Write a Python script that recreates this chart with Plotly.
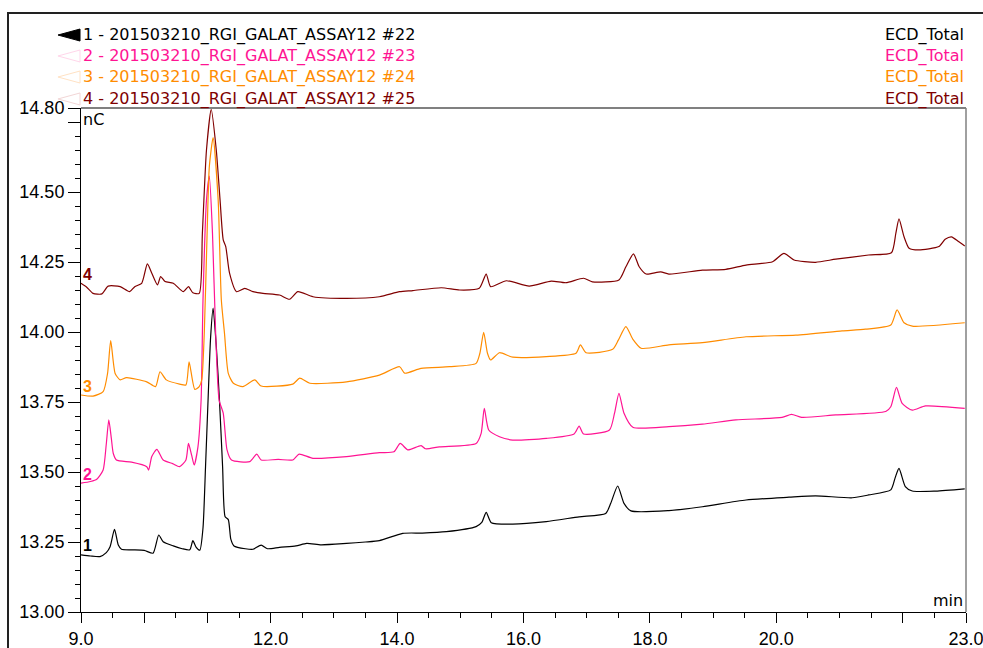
import plotly.graph_objects as go

# Retention time (min) / ECD signal (nC) for each injection
run22 = [(9.00, 13.204), (9.15, 13.200), (9.30, 13.198), (9.40, 13.212), (9.46, 13.233), (9.53, 13.295),
         (9.59, 13.239), (9.64, 13.224), (9.80, 13.222), (10.00, 13.220), (10.14, 13.210), (10.23, 13.275),
         (10.30, 13.251), (10.46, 13.236), (10.60, 13.226), (10.72, 13.222), (10.77, 13.255), (10.82, 13.232),
         (10.88, 13.221), (10.93, 13.300), (10.97, 13.519), (11.01, 13.757), (11.05, 13.980), (11.09, 14.085),
         (11.14, 13.950), (11.19, 13.757), (11.24, 13.519), (11.28, 13.340), (11.33, 13.330), (11.37, 13.260),
         (11.42, 13.236), (11.60, 13.226), (11.72, 13.224), (11.85, 13.239), (11.95, 13.226), (12.14, 13.231),
         (12.40, 13.236), (12.57, 13.245), (12.80, 13.240), (13.20, 13.245), (13.50, 13.250), (13.72, 13.255),
         (14.09, 13.281), (14.40, 13.282), (14.78, 13.287), (15.25, 13.305), (15.34, 13.320), (15.41, 13.356),
         (15.49, 13.319), (15.83, 13.314), (16.36, 13.323), (16.88, 13.340), (17.30, 13.352), (17.38, 13.388),
         (17.49, 13.450), (17.59, 13.388), (17.70, 13.361), (18.30, 13.362), (18.83, 13.376), (19.52, 13.400),
         (20.20, 13.410), (20.62, 13.415), (21.20, 13.408), (21.46, 13.418), (21.81, 13.436), (21.88, 13.480),
         (21.94, 13.513), (22.04, 13.448), (22.15, 13.432), (22.52, 13.432), (22.98, 13.440)]

run23 = [(9.00, 13.460), (9.15, 13.466), (9.25, 13.474), (9.35, 13.507), (9.40, 13.600), (9.44, 13.686),
         (9.48, 13.620), (9.51, 13.567), (9.56, 13.543), (9.80, 13.535), (10.04, 13.519), (10.07, 13.507),
         (10.12, 13.555), (10.20, 13.581), (10.30, 13.543), (10.45, 13.530), (10.56, 13.519), (10.66, 13.543),
         (10.70, 13.602), (10.75, 13.560), (10.79, 13.525), (10.85, 13.590), (10.90, 13.757), (10.93, 14.114),
         (10.985, 14.471), (11.03, 14.557), (11.08, 14.352), (11.13, 13.995), (11.185, 13.757), (11.25, 13.710),
         (11.31, 13.579), (11.38, 13.543), (11.67, 13.537), (11.78, 13.564), (11.85, 13.543), (12.12, 13.545),
         (12.35, 13.543), (12.45, 13.564), (12.67, 13.549), (13.20, 13.555), (13.72, 13.569), (13.95, 13.572),
         (14.05, 13.602), (14.17, 13.579), (14.38, 13.594), (14.45, 13.583), (14.67, 13.590), (15.25, 13.602),
         (15.33, 13.638), (15.38, 13.727), (15.45, 13.650), (15.62, 13.626), (15.83, 13.614), (16.36, 13.620),
         (16.80, 13.636), (16.88, 13.664), (16.95, 13.636), (17.36, 13.650), (17.44, 13.710), (17.51, 13.781),
         (17.59, 13.710), (17.73, 13.660), (18.30, 13.662), (18.83, 13.671), (19.36, 13.686), (20.09, 13.695),
         (20.24, 13.706), (20.40, 13.695), (20.94, 13.704), (21.73, 13.716), (21.81, 13.733), (21.90, 13.802),
         (21.99, 13.745), (22.15, 13.721), (22.36, 13.736), (22.98, 13.727)]

run24 = [(9.00, 13.775), (9.19, 13.771), (9.35, 13.787), (9.42, 13.852), (9.47, 13.969), (9.54, 13.852),
         (9.62, 13.829), (9.72, 13.837), (10.04, 13.822), (10.18, 13.805), (10.25, 13.858), (10.35, 13.829),
         (10.56, 13.814), (10.66, 13.811), (10.71, 13.893), (10.80, 13.795), (10.87, 13.805), (10.91, 13.829),
         (10.95, 13.995), (10.995, 14.352), (11.03, 14.590), (11.09, 14.694), (11.17, 14.471), (11.22, 14.114),
         (11.27, 13.995), (11.33, 13.852), (11.41, 13.817), (11.56, 13.805), (11.75, 13.829), (11.85, 13.807),
         (12.35, 13.814), (12.46, 13.835), (12.62, 13.817), (13.20, 13.822), (13.72, 13.846), (14.04, 13.876),
         (14.12, 13.853), (14.38, 13.870), (14.83, 13.876), (15.25, 13.888), (15.31, 13.924), (15.37, 13.999),
         (15.43, 13.924), (15.48, 13.900), (15.62, 13.926), (15.83, 13.910), (16.36, 13.912), (16.83, 13.924),
         (16.90, 13.954), (16.99, 13.926), (17.41, 13.938), (17.50, 13.971), (17.62, 14.019), (17.73, 13.974),
         (17.86, 13.942), (18.30, 13.954), (18.83, 13.962), (19.52, 13.983), (20.31, 13.989), (21.04, 14.004),
         (21.41, 14.010), (21.81, 14.025), (21.91, 14.079), (22.02, 14.033), (22.15, 14.021), (22.98, 14.033)]

run25 = [(9.00, 14.174), (9.09, 14.160), (9.19, 14.138), (9.33, 14.136), (9.43, 14.164), (9.62, 14.162),
         (9.77, 14.144), (9.85, 14.162), (9.96, 14.174), (10.05, 14.243), (10.12, 14.210), (10.21, 14.168),
         (10.26, 14.198), (10.33, 14.180), (10.46, 14.174), (10.62, 14.144), (10.70, 14.162), (10.77, 14.140),
         (10.87, 14.138), (10.92, 14.352), (10.985, 14.650), (11.06, 14.795), (11.14, 14.650), (11.20, 14.471),
         (11.25, 14.329), (11.29, 14.305), (11.35, 14.210), (11.46, 14.144), (11.59, 14.156), (11.72, 14.144),
         (11.88, 14.138), (12.14, 14.132), (12.30, 14.117), (12.43, 14.144), (12.67, 14.126), (13.20, 14.120),
         (13.72, 14.126), (14.04, 14.144), (14.25, 14.148), (14.70, 14.158), (14.99, 14.150), (15.30, 14.156),
         (15.41, 14.207), (15.48, 14.162), (15.73, 14.183), (16.09, 14.164), (16.44, 14.182), (16.67, 14.176),
         (16.95, 14.192), (17.09, 14.179), (17.51, 14.186), (17.62, 14.233), (17.74, 14.279), (17.83, 14.233),
         (17.94, 14.207), (18.17, 14.215), (18.30, 14.207), (18.83, 14.221), (19.20, 14.224), (19.52, 14.239),
         (19.94, 14.251), (20.12, 14.281), (20.28, 14.257), (20.62, 14.249), (20.94, 14.260), (21.46, 14.275),
         (21.82, 14.283), (21.89, 14.352), (21.94, 14.404), (22.02, 14.340), (22.10, 14.299), (22.25, 14.293),
         (22.57, 14.305), (22.67, 14.331), (22.77, 14.340), (22.88, 14.323), (22.98, 14.307)]

run_names = ["1 - 201503210_RGI_GALAT_ASSAY12 #22",
             "2 - 201503210_RGI_GALAT_ASSAY12 #23",
             "3 - 201503210_RGI_GALAT_ASSAY12 #24",
             "4 - 201503210_RGI_GALAT_ASSAY12 #25"]
channel = "ECD_Total"
colors = ["#000000", "#FF1493", "#FF8C00", "#800000"]
faint = ["#000000", "#FFD6EA", "#FFE2C4", "#F2D6D6"]

x_ticks = [9, 10, 11, 12, 14, 16, 18, 20, 22, 23]
x_ticktext = ["9.0", "", "", "12.0", "14.0", "16.0", "18.0", "20.0", "", "23.0"]
y_ticks = [13.00, 13.25, 13.50, 13.75, 14.00, 14.25, 14.50, 14.75, 14.80]
y_ticktext = ["13.00", "13.25", "13.50", "13.75", "14.00", "14.25", "14.50", "", "14.80"]

FONT = "Liberation Sans, Arial, sans-serif"
HEAD_FONT = "DejaVu Sans, Verdana, sans-serif"
W, H = 983, 648
L, R, T, B = 81, 17, 108, 36
PW, PH = W - L - R, H - T - B


def px(xp):
    return (xp - L) / PW


def py(yp):
    return (H - B - yp) / PH


fig = go.Figure()
runs = [run22, run23, run24, run25]
for i, run in enumerate(runs):
    fig.add_trace(go.Scatter(
        x=[p[0] for p in run], y=[p[1] for p in run], mode="lines",
        line=dict(color=colors[i], width=1.2, shape="spline", smoothing=0.6),
        hoverinfo="skip", showlegend=False))

annotations = []
shapes = []
row_y = [35, 56, 77, 99]
for i in range(4):
    annotations.append(dict(xref="paper", yref="paper", x=0, y=py(row_y[i]), xanchor="left",
                            yanchor="middle", text=run_names[i], showarrow=False, xshift=0,
                            font=dict(family=HEAD_FONT, size=16, color=colors[i])))
    annotations.append(dict(xref="paper", yref="paper", x=1, y=py(row_y[i]), xanchor="right",
                            yanchor="middle", text=channel, showarrow=False, xshift=0,
                            font=dict(family=HEAD_FONT, size=16, color=colors[i])))
    # run selector arrow beside each header row
    yc = row_y[i]
    path = "M {:.4f},{:.4f} L {:.4f},{:.4f} L {:.4f},{:.4f} Z".format(
        px(58), py(yc), px(80), py(yc - 6), px(80), py(yc + 6))
    if i == 0:
        shapes.append(dict(type="path", xref="paper", yref="paper", path=path,
                           fillcolor="#000000", line=dict(color="#000000", width=1)))
    else:
        shapes.append(dict(type="path", xref="paper", yref="paper", path=path,
                           fillcolor="rgba(0,0,0,0)", line=dict(color=faint[i], width=1)))
    # trace number at the start of each run
    annotations.append(dict(xref="x", yref="y", x=9.0, y=runs[i][0][1], xanchor="left",
                            yanchor="middle", yshift=9, xshift=0, text="<b>%d</b>" % (i + 1),
                            showarrow=False, font=dict(family=FONT, size=16, color=colors[i])))

annotations.append(dict(xref="paper", yref="paper", x=0, y=1, xanchor="left", yanchor="top",
                        xshift=0, yshift=0, text="nC", showarrow=False,
                        font=dict(family=HEAD_FONT, size=16, color="#000000")))
annotations.append(dict(xref="paper", yref="paper", x=1, y=0, xanchor="right", yanchor="bottom",
                        xshift=-1, yshift=0, text="min", showarrow=False,
                        font=dict(family=HEAD_FONT, size=16, color="#000000")))

# grey top/right plot border and outer frame
shapes.append(dict(type="line", xref="paper", yref="paper", x0=0, x1=1, y0=1, y1=1,
                   line=dict(color="#808080", width=2)))
shapes.append(dict(type="line", xref="paper", yref="paper", x0=1, x1=1, y0=0, y1=1,
                   line=dict(color="#808080", width=1.5)))
shapes.append(dict(type="rect", xref="paper", yref="paper", x0=px(8), x1=px(1000),
                   y0=py(700), y1=py(13), line=dict(color="#222222", width=2),
                   fillcolor="rgba(0,0,0,0)", layer="above"))

x_minor = [v / 2 for v in range(18, 47) if v % 2 == 1] + [13, 15, 17, 19, 21]
y_minor = [round(13 + 0.05 * k, 2) for k in range(1, 36)]
y_minor = [v for v in y_minor if all(abs(v - t) > 1e-6 for t in y_ticks)]

fig.update_layout(
    width=W, height=H,
    margin=dict(l=L, r=R, t=T, b=B, pad=0, autoexpand=False),
    plot_bgcolor="white", paper_bgcolor="white",
    font=dict(family=FONT, color="#000000"),
    annotations=annotations, shapes=shapes,
    xaxis=dict(range=[9, 23], tickmode="array", tickvals=x_ticks, ticktext=x_ticktext,
               ticks="outside", ticklen=10, tickwidth=1, tickcolor="#000000",
               showline=True, linecolor="#000000", linewidth=1, showgrid=False, zeroline=False,
               automargin=False, ticklabeloverflow="allow",
               tickfont=dict(family=FONT, size=18, color="#000000"),
               minor=dict(tickvals=x_minor, ticks="outside", ticklen=5, tickcolor="#000000",
                          tickwidth=1, showgrid=False)),
    yaxis=dict(range=[13.0, 14.8], tickmode="array", tickvals=y_ticks, ticktext=y_ticktext,
               ticks="outside", ticklen=12, tickwidth=1, tickcolor="#000000",
               showline=True, linecolor="#000000", linewidth=1, showgrid=False, zeroline=False,
               automargin=False, ticklabeloverflow="allow",
               tickfont=dict(family=FONT, size=18, color="#000000"),
               minor=dict(tickvals=y_minor, ticks="outside", ticklen=5, tickcolor="#000000",
                          tickwidth=1, showgrid=False)),
)

fig.write_html("out.html")
